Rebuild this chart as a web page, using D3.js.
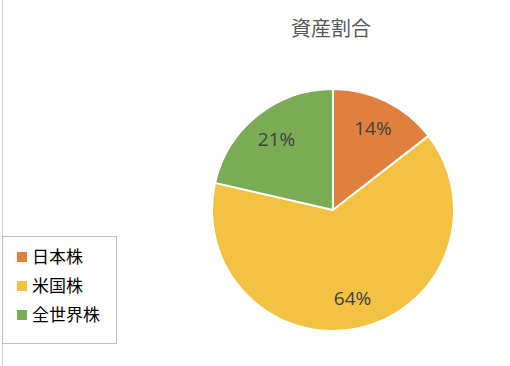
<!DOCTYPE html>
<html>
<head>
<meta charset="utf-8">
<script src="https://d3js.org/d3.v7.min.js"></script>
<style>
  body { margin: 0; background: #fff; }
  svg { display: block; }
</style>
</head>
<body>
<div id="chart"></div>
<script>
// data
var categories = ["日本株", "米国株", "全世界株"];
var values = [14.5, 64.1, 21.4];
var colors = ["#E0803F", "#F4C243", "#7AAB55"];
var title = "資産割合";

var width = 510, height = 366;
var cx = 333, cy = 210, radius = 121;
var font = "'Noto Sans CJK JP', 'Noto Sans', sans-serif";

var svg = d3.select("#chart").append("svg")
  .attr("width", width)
  .attr("height", height);

// chart area edge on the left
svg.append("line")
  .attr("x1", 2.5).attr("x2", 2.5)
  .attr("y1", 0).attr("y2", height)
  .attr("stroke", "#d0d0d0");

// title
svg.append("text")
  .attr("x", 331)
  .attr("y", 36)
  .attr("text-anchor", "middle")
  .style("font-family", font)
  .style("font-size", "20px")
  .style("fill", "#595959")
  .text(title);

var data = categories.map(function(c, i) { return {name: c, value: values[i], color: colors[i]}; });
var total = d3.sum(values);

var pie = d3.pie().sort(null).value(function(d) { return d.value; });
var arc = d3.arc().innerRadius(0).outerRadius(radius);
var labelArc = d3.arc().innerRadius(radius * 0.75).outerRadius(radius * 0.75);

var g = svg.append("g").attr("transform", "translate(" + cx + "," + cy + ")");

var arcs = pie(data);

g.selectAll("path")
  .data(arcs)
  .enter().append("path")
  .attr("d", arc)
  .attr("fill", function(d) { return d.data.color; })
  .attr("stroke", "#fff")
  .attr("stroke-width", 2);

g.selectAll("text.lbl")
  .data(arcs)
  .enter().append("text")
  .attr("class", "lbl")
  .attr("transform", function(d) { return "translate(" + labelArc.centroid(d) + ")"; })
  .attr("text-anchor", "middle")
  .attr("dy", "0.36em")
  .style("font-family", "'Open Sans', sans-serif")
  .style("font-size", "19px")
  .style("fill", "#404040")
  .text(function(d) { return Math.round(d.data.value / total * 100) + "%"; });

// legend
var legend = svg.append("g");
legend.append("rect")
  .attr("x", 2.5).attr("y", 236.5)
  .attr("width", 114).attr("height", 107)
  .attr("fill", "#fff")
  .attr("stroke", "#bfbfbf");

var rows = legend.selectAll("g.row")
  .data(data)
  .enter().append("g")
  .attr("class", "row")
  .attr("transform", function(d, i) { return "translate(17," + (257 + i * 29) + ")"; });

rows.append("rect")
  .attr("x", 0).attr("y", -5)
  .attr("width", 10).attr("height", 10)
  .attr("fill", function(d) { return d.color; });

rows.append("text")
  .attr("x", 15)
  .attr("dy", "0.36em")
  .style("font-family", font)
  .style("font-size", "17px")
  .style("fill", "#000")
  .text(function(d) { return d.name; });
</script>
</body>
</html>
